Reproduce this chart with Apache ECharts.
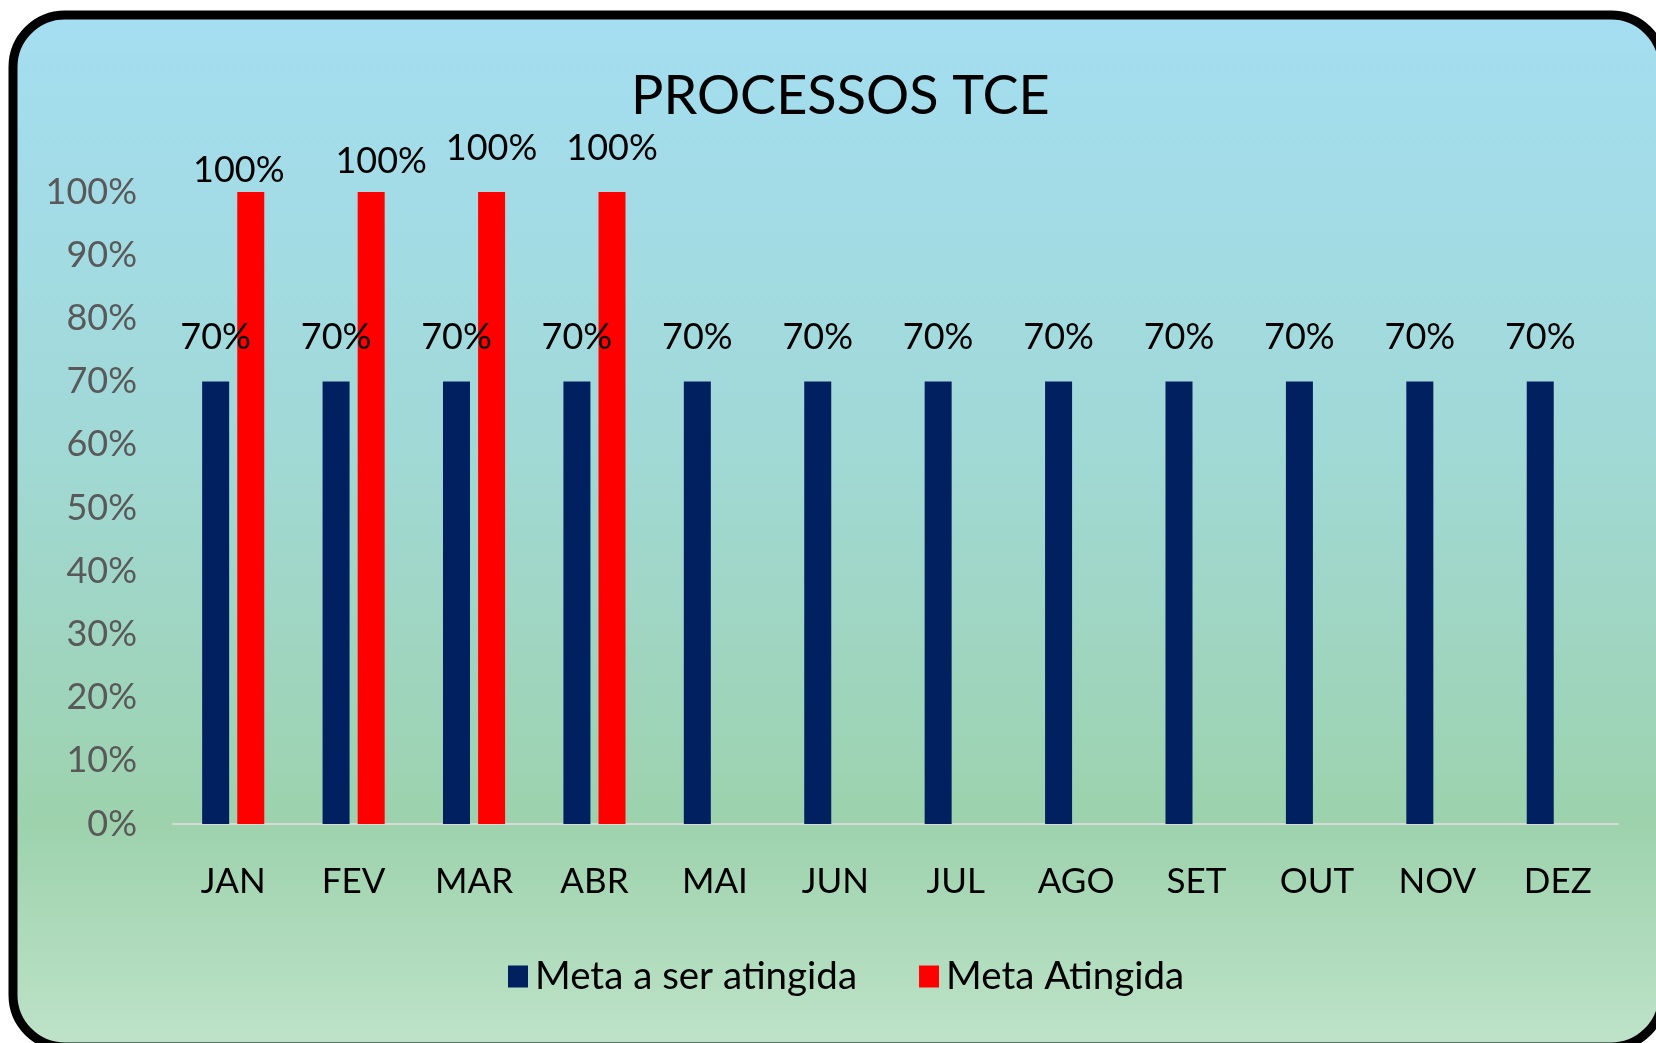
<!DOCTYPE html>
<html>
<head>
<meta charset="utf-8">
<title>PROCESSOS TCE</title>
<script src="https://cdn.jsdelivr.net/npm/echarts@6/dist/echarts.min.js"></script>
<style>
  html, body { margin: 0; padding: 0; background: #ffffff; }
  #chart { width: 1656px; height: 1043px; }
</style>
</head>
<body>
<div id="chart"></div>
<script>
// dados do gráfico
const months = ['JAN', 'FEV', 'MAR', 'ABR', 'MAI', 'JUN', 'JUL', 'AGO', 'SET', 'OUT', 'NOV', 'DEZ'];
const metaSerAtingida = [70, 70, 70, 70, 70, 70, 70, 70, 70, 70, 70, 70];
const metaAtingida = [100, 100, 100, 100, null, null, null, null, null, null, null, null];
const yTicks = [0, 10, 20, 30, 40, 50, 60, 70, 80, 90, 100];

const FONT = 'Lato, "Open Sans", sans-serif';

// rótulos do Excel foram arrastados à mão, então cada um tem seu deslocamento
const redLabelShift = [[-12, 0], [10, -9], [0, -22], [0, -22]];

const chart = echarts.init(document.getElementById('chart'));

const option = {
  backgroundColor: '#ffffff',
  textStyle: { fontFamily: FONT },
  graphic: [{
    type: 'rect',
    z: -10,
    silent: true,
    shape: { x: 13, y: 15, width: 1650, height: 1032, r: 52 },
    style: {
      fill: new echarts.graphic.LinearGradient(0, 0, 0, 1, [
        { offset: 0, color: '#a4def1' },
        { offset: 0.4, color: '#a1d9d8' },
        { offset: 0.78, color: '#9dd2ad' },
        { offset: 1, color: '#bfe3c9' }
      ]),
      stroke: '#000000',
      lineWidth: 9
    }
  }],
  title: {
    text: 'PROCESSOS TCE',
    left: 626,
    top: 65,
    textStyle: { fontFamily: FONT, fontSize: 54, fontWeight: 'normal', color: '#000000' }
  },
  legend: {
    data: ['Meta a ser atingida', 'Meta Atingida'],
    left: 503,
    top: 952,
    icon: 'rect',
    itemWidth: 20,
    itemHeight: 22,
    itemGap: 62,
    textStyle: { fontFamily: FONT, fontSize: 38.5, color: '#000000', padding: [0, 0, 0, 2] }
  },
  grid: { left: 173, right: 38, top: 192, bottom: 219, containLabel: false },
  xAxis: {
    type: 'category',
    data: months,
    axisLine: { lineStyle: { color: '#d9d9d9', width: 2 } },
    axisTick: { show: false },
    axisLabel: { fontFamily: FONT, fontSize: 35, color: '#000000', margin: 40 }
  },
  yAxis: {
    type: 'value',
    min: yTicks[0],
    max: yTicks[yTicks.length - 1],
    interval: 10,
    axisLine: { show: false },
    axisTick: { show: false },
    splitLine: { show: false },
    axisLabel: { fontFamily: FONT, fontSize: 36, color: '#595959', margin: 36, formatter: '{value}%' }
  },
  series: [
    {
      name: 'Meta a ser atingida',
      type: 'bar',
      data: metaSerAtingida,
      barWidth: 27,
      barGap: '30%',
      itemStyle: { color: '#002060' },
      label: {
        show: true,
        position: 'top',
        distance: 26,
        formatter: '{c}%',
        fontFamily: FONT,
        fontSize: 36,
        color: '#000000'
      }
    },
    {
      name: 'Meta Atingida',
      type: 'bar',
      barWidth: 27,
      data: metaAtingida.map((v, i) => ({
        value: v,
        label: redLabelShift[i] ? { offset: redLabelShift[i] } : undefined
      })),
      itemStyle: { color: '#ff0000' },
      label: {
        show: true,
        position: 'top',
        distance: 4,
        formatter: '{c}%',
        fontFamily: FONT,
        fontSize: 36,
        color: '#000000'
      }
    }
  ]
};

chart.setOption(option);
window.addEventListener('resize', () => chart.resize());
</script>
</body>
</html>
